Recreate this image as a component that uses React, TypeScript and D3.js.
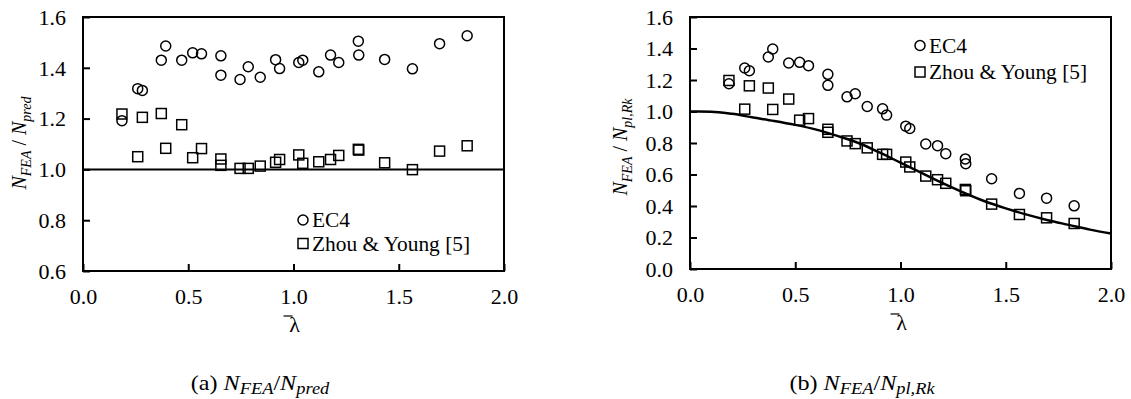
import React, { useEffect, useRef } from 'react';
import * as d3 from 'd3';

// shared slenderness values of the specimens
const lambdaBar = [0.185, 0.26, 0.282, 0.372, 0.393, 0.469, 0.521, 0.563, 0.655, 0.655, 0.746, 0.785, 0.842, 0.915, 0.934, 1.025, 1.044, 1.12, 1.176, 1.215, 1.308, 1.31, 1.433, 1.565, 1.694, 1.825];

// (a) N_FEA / N_pred
const ec4Pred = [1.192, 1.318, 1.311, 1.43, 1.486, 1.43, 1.459, 1.455, 1.447, 1.371, 1.354, 1.404, 1.363, 1.432, 1.397, 1.421, 1.43, 1.384, 1.45, 1.421, 1.505, 1.45, 1.433, 1.396, 1.495, 1.526];
const zhouPred = [1.218, 1.05, 1.205, 1.22, 1.083, 1.176, 1.046, 1.082, 1.041, 1.016, 1.004, 1.004, 1.013, 1.028, 1.039, 1.057, 1.024, 1.03, 1.039, 1.055, 1.079, 1.076, 1.026, 0.999, 1.072, 1.093];

// (b) N_FEA / N_pl,Rk
const ec4PlRk = [1.176, 1.276, 1.259, 1.346, 1.397, 1.308, 1.312, 1.291, 1.236, 1.166, 1.093, 1.113, 1.032, 1.017, 0.977, 0.907, 0.892, 0.794, 0.783, 0.732, 0.699, 0.669, 0.573, 0.48, 0.45, 0.401];
const zhouPlRk = [1.197, 1.015, 1.163, 1.149, 1.013, 1.079, 0.945, 0.955, 0.887, 0.868, 0.813, 0.796, 0.769, 0.728, 0.728, 0.679, 0.648, 0.59, 0.567, 0.544, 0.505, 0.497, 0.412, 0.346, 0.325, 0.289];

// buckling curve
const curveLambda = [0, 0.1, 0.2, 0.3, 0.4, 0.5, 0.6, 0.7, 0.8, 0.9, 1.0, 1.1, 1.2, 1.3, 1.4, 1.5, 1.6, 1.7, 1.8, 1.9, 2.0];
const curveChi = [1.0, 0.999, 0.985, 0.962, 0.94, 0.915, 0.885, 0.845, 0.8, 0.74, 0.675, 0.61, 0.545, 0.485, 0.43, 0.385, 0.345, 0.31, 0.28, 0.25, 0.225];

const xTicks = [0, 0.5, 1.0, 1.5, 2.0];
const yTicksA = [0.6, 0.8, 1.0, 1.2, 1.4, 1.6];
const yTicksB = [0, 0.2, 0.4, 0.6, 0.8, 1.0, 1.2, 1.4, 1.6];
const legendLabels = ['EC4', 'Zhou & Young [5]'];

const FONT = "Liberation Serif, DejaVu Serif, Times New Roman, serif";
const SX = 1.1; // the source figure's text is a little wider than tall

type Sel = d3.Selection<SVGGElement, unknown, null, undefined>;

function drawPanel(root: Sel, o: {
  left: number; right: number; top: number; bottom: number;
  yDomain: [number, number]; yTicks: number[];
  circles: number[]; squares: number[];
  refLine?: boolean; curve?: boolean;
  legendX: number; legendY: number; legendGap: number;
  titleX: number; titleY: number; titleSub: string;
  captionX: number; captionLabel: string;
}) {
  const x = d3.scaleLinear().domain([0, 2]).range([o.left, o.right]);
  const y = d3.scaleLinear().domain(o.yDomain).range([o.bottom, o.top]);
  const g = root.append('g');

  // axes
  const ax = g.append('g')
    .attr('transform', `translate(0,${o.bottom})`)
    .call(d3.axisBottom(x).tickValues(xTicks).tickFormat(d3.format('.1f')).tickSizeInner(-7).tickSizeOuter(0).tickPadding(19));
  const ay = g.append('g')
    .attr('transform', `translate(${o.left},0)`)
    .call(d3.axisLeft(y).tickValues(o.yTicks).tickFormat(d3.format('.1f')).tickSizeInner(-7).tickSizeOuter(0).tickPadding(17));
  [ax, ay].forEach(a => {
    a.attr('font-family', FONT).attr('font-size', 20);
    a.select('.domain').remove();
    a.selectAll('line').attr('stroke', '#000').attr('stroke-width', 2);
    a.selectAll('text').attr('fill', '#000').attr('transform', `scale(${SX},1)`);
  });
  ay.selectAll('text').attr('dy', '0.36em').attr('x', -17 / SX);

  // frame
  g.append('rect')
    .attr('x', o.left).attr('y', o.top)
    .attr('width', o.right - o.left).attr('height', o.bottom - o.top)
    .attr('fill', 'none').attr('stroke', '#000').attr('stroke-width', 2);

  if (o.refLine) {
    g.append('line')
      .attr('x1', x(0)).attr('x2', x(2)).attr('y1', y(1)).attr('y2', y(1))
      .attr('stroke', '#000').attr('stroke-width', 2);
  }
  if (o.curve) {
    const line = d3.line<number>()
      .x((_, i) => x(curveLambda[i]))
      .y(d => y(d))
      .curve(d3.curveMonotoneX);
    g.append('path').datum(curveChi)
      .attr('fill', 'none').attr('stroke', '#000').attr('stroke-width', 2.5)
      .attr('d', line);
  }

  // markers
  g.selectAll('circle.pt').data(o.circles).enter().append('circle')
    .attr('class', 'pt')
    .attr('cx', (_, i) => x(lambdaBar[i])).attr('cy', d => y(d)).attr('r', 5)
    .attr('fill', 'none').attr('stroke', '#000').attr('stroke-width', 1.5);
  g.selectAll('rect.pt').data(o.squares).enter().append('rect')
    .attr('class', 'pt')
    .attr('x', (_, i) => x(lambdaBar[i]) - 5).attr('y', d => y(d) - 5)
    .attr('width', 10).attr('height', 10)
    .attr('fill', 'none').attr('stroke', '#000').attr('stroke-width', 1.5);

  // legend
  const lg = g.append('g').attr('transform', `translate(${o.legendX},${o.legendY})`)
    .attr('font-family', FONT).attr('font-size', 20);
  lg.append('circle').attr('cx', 0).attr('cy', 0).attr('r', 5)
    .attr('fill', 'none').attr('stroke', '#000').attr('stroke-width', 1.5);
  lg.append('rect').attr('x', -5).attr('y', o.legendGap - 5).attr('width', 10).attr('height', 10)
    .attr('fill', 'none').attr('stroke', '#000').attr('stroke-width', 1.5);
  legendLabels.forEach((t, i) => {
    lg.append('text')
      .attr('transform', `translate(9,${i * o.legendGap + 7}) scale(1.07,1)`)
      .attr('fill', '#000')
      .text(t);
  });

  // lambda bar label
  const xl = x(1);
  g.append('text').attr('x', xl + 1).attr('y', o.bottom + 61)
    .attr('text-anchor', 'middle').attr('font-family', FONT).attr('font-size', 22)
    .text('λ');
  g.append('line').attr('x1', xl - 10).attr('x2', xl - 1)
    .attr('y1', o.bottom + 45).attr('y2', o.bottom + 45)
    .attr('stroke', '#000').attr('stroke-width', 1.2);

  // y title
  const yt = g.append('text')
    .attr('transform', `translate(${o.titleX},${o.titleY}) rotate(-90)`)
    .attr('text-anchor', 'middle').attr('font-family', FONT).attr('font-size', 20)
    .attr('font-style', 'italic');
  yt.append('tspan').text('N');
  yt.append('tspan').attr('font-size', 14).attr('dy', 5).text('FEA');
  yt.append('tspan').attr('dy', -5).attr('font-style', 'normal').text(' / ');
  yt.append('tspan').text('N');
  yt.append('tspan').attr('font-size', 14).attr('dy', 5).text(o.titleSub);

  // caption
  const cp = g.append('text')
    .attr('transform', `translate(${o.captionX},390) scale(1.15,1)`)
    .attr('text-anchor', 'middle').attr('font-family', FONT).attr('font-size', 21);
  cp.append('tspan').text(`(${o.captionLabel}) `);
  cp.append('tspan').attr('font-style', 'italic').text('N');
  cp.append('tspan').attr('font-style', 'italic').attr('font-size', 16).attr('dy', 4).text('FEA');
  cp.append('tspan').attr('dy', -4).text('/');
  cp.append('tspan').attr('font-style', 'italic').text('N');
  cp.append('tspan').attr('font-style', 'italic').attr('font-size', 16).attr('dy', 4).text(o.titleSub);
}

export default function App() {
  const svgRef = useRef<SVGSVGElement>(null);

  useEffect(() => {
    if (!svgRef.current) return;
    const svg = d3.select(svgRef.current);
    svg.selectAll('*').remove();
    const root = svg.append('g') as unknown as Sel;

    drawPanel(root, {
      left: 83, right: 504, top: 17, bottom: 271,
      yDomain: [0.6, 1.6], yTicks: yTicksA,
      circles: ec4Pred, squares: zhouPred, refLine: true,
      legendX: 303, legendY: 220, legendGap: 23.5,
      titleX: 26, titleY: 143, titleSub: 'pred',
      captionX: 260, captionLabel: 'a'
    });
    drawPanel(root, {
      left: 690, right: 1111, top: 17, bottom: 269,
      yDomain: [0, 1.6], yTicks: yTicksB,
      circles: ec4PlRk, squares: zhouPlRk, curve: true,
      legendX: 920, legendY: 45.5, legendGap: 26.5,
      titleX: 627, titleY: 147, titleSub: 'pl,Rk',
      captionX: 862, captionLabel: 'b'
    });
  }, []);

  return (
    <svg ref={svgRef} width={1131} height={399}
      style={{ position: 'absolute', left: 0, top: 0, background: '#fff' }} />
  );
}
